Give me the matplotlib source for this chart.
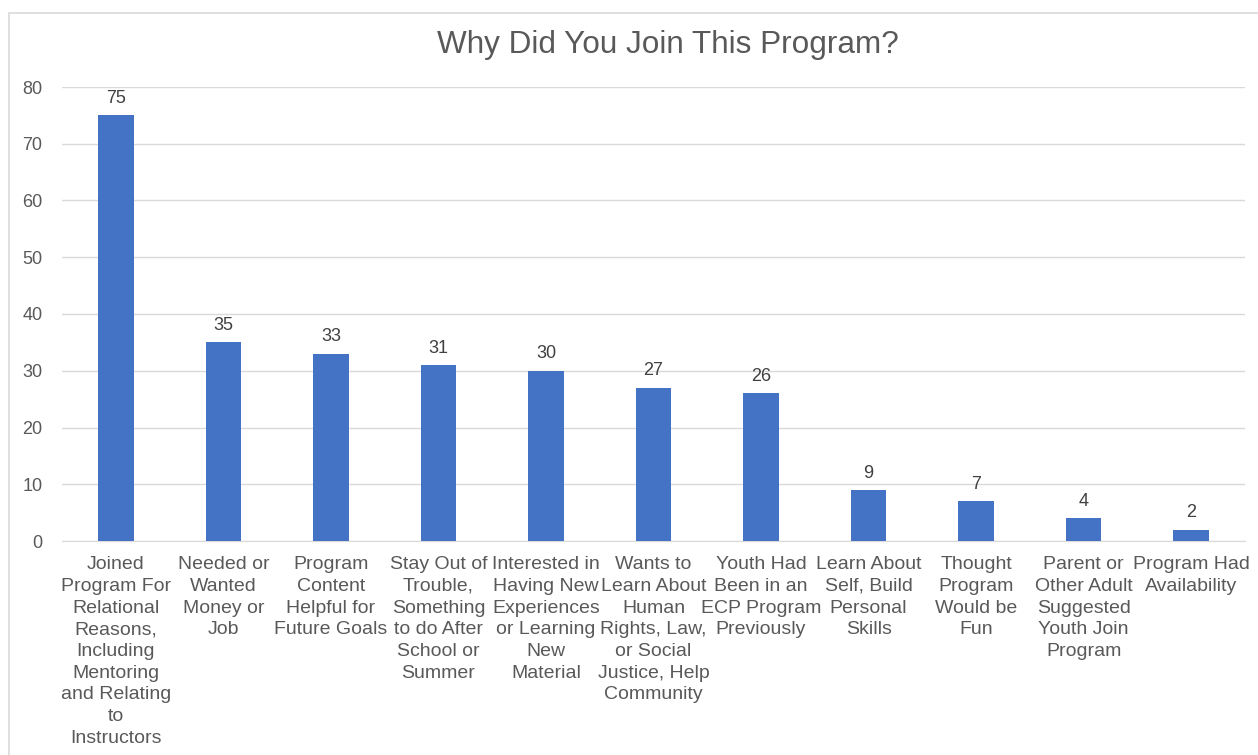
import matplotlib.pyplot as plt
from matplotlib.patches import Rectangle

plt.rcParams['font.family'] = ['Liberation Sans', 'DejaVu Sans']

reasons = [
    "Joined\nProgram For\nRelational\nReasons,\nIncluding\nMentoring\nand Relating\nto\nInstructors",
    "Needed or\nWanted\nMoney or\nJob",
    "Program\nContent\nHelpful for\nFuture Goals",
    "Stay Out of\nTrouble,\nSomething\nto do After\nSchool or\nSummer",
    "Interested in\nHaving New\nExperiences\nor Learning\nNew\nMaterial",
    "Wants to\nLearn About\nHuman\nRights, Law,\nor Social\nJustice, Help\nCommunity",
    "Youth Had\nBeen in an\nECP Program\nPreviously",
    "Learn About\nSelf, Build\nPersonal\nSkills",
    "Thought\nProgram\nWould be\nFun",
    "Parent or\nOther Adult\nSuggested\nYouth Join\nProgram",
    "Program Had\nAvailability",
]
counts = [75, 35, 33, 31, 30, 27, 26, 9, 7, 4, 2]
y_ticks = [0, 10, 20, 30, 40, 50, 60, 70, 80]

text_col = '#595959'
bar_col = '#4472C4'
grid_col = '#D9D9D9'

fig = plt.figure(figsize=(12.58, 7.55), dpi=100)
ax = fig.add_axes([62 / 1258, 1 - 541 / 755, (1245 - 62) / 1258, (541 - 87) / 755])

# light frame around the chart area
fig.patches.append(Rectangle((9 / 1258, -0.1), 1.2, 1.083, transform=fig.transFigure,
                             fill=False, edgecolor='#D9D9D9', linewidth=1.2))

x = range(len(reasons))
bars = ax.bar(x, counts, width=0.33, color=bar_col, zorder=3)
for b, v in zip(bars, counts):
    ax.annotate(str(v), (b.get_x() + b.get_width() / 2, v), xytext=(0, 6),
                textcoords='offset points', ha='center', va='bottom',
                fontsize=13, color='#404040')

ax.set_xlim(-0.5, len(reasons) - 0.5)
ax.set_ylim(0, 80)
ax.set_yticks(y_ticks)
ax.yaxis.grid(True, color=grid_col, linewidth=1, zorder=0)
ax.set_xticks(list(x))
ax.set_xticklabels(reasons, fontsize=14, color=text_col, linespacing=1.36)
ax.tick_params(axis='x', length=0, pad=11)
ax.tick_params(axis='y', length=0, pad=14, labelsize=13, labelcolor=text_col)
for s in ['top', 'right', 'left']:
    ax.spines[s].set_visible(False)
ax.spines['bottom'].set_color(grid_col)

fig.text(668 / 1258, 1 - 45 / 755, 'Why Did You Join This Program?', ha='center', va='center',
         fontsize=22.7, color=text_col)

fig.savefig('out.png', dpi=100)
